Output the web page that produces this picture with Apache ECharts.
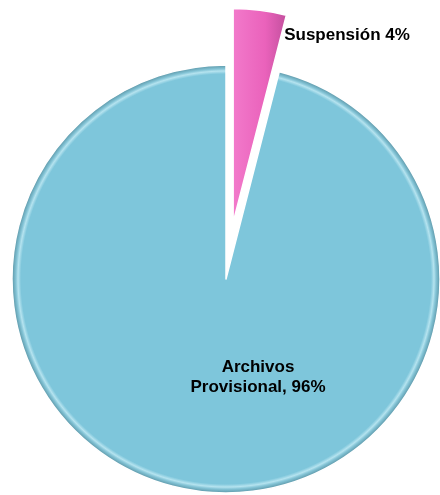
<!DOCTYPE html>
<html>
<head>
<meta charset="utf-8">
<script src="https://cdn.jsdelivr.net/npm/echarts@6/dist/echarts.min.js"></script>
<style>
html,body{margin:0;padding:0;background:#fff;}
#chart{width:440px;height:495px;}
</style>
</head>
<body>
<div id="chart"></div>
<script>
const categories = ['Suspensión', 'Archivos Provisional'];
const values = [4, 96];
const labelTexts = ['Suspensión {c}%', 'Archivos\nProvisional, {c}%'];

const CX = 226, CY = 279, R = 214;
const EXPLODE = 57;

// bisector of the exploded slice (clockwise from 12 o'clock)
const total = values.reduce((a, b) => a + b, 0);
const midDeg = values[0] / total * 360 / 2;
const PX = CX + EXPLODE * Math.sin(midDeg * Math.PI / 180);
const PY = CY - EXPLODE * Math.cos(midDeg * Math.PI / 180);

const blueFill = {
  type: 'radial', x: CX, y: CY, r: R, global: true,
  colorStops: [
    {offset: 0, color: '#7EC6DB'},
    {offset: 0.958, color: '#7EC6DB'},
    {offset: 0.972, color: '#B5E3EF'},
    {offset: 0.982, color: '#84C4D6'},
    {offset: 1, color: '#5B96A7'}
  ]
};
const pinkFill = {
  type: 'linear', x: 0, y: 0, x2: 1, y2: 0,
  colorStops: [
    {offset: 0, color: '#F27ACB'},
    {offset: 0.6, color: '#EA62BB'},
    {offset: 1, color: '#C24F9D'}
  ]
};
const fills = [pinkFill, blueFill];
const labelPos = [[347, 35], [258, 377]];

function makeSeries(idx, center) {
  return {
    type: 'pie',
    center: center,
    radius: [0, R],
    startAngle: 90,
    clockwise: true,
    avoidLabelOverlap: false,
    labelLine: {show: false},
    emphasis: {disabled: true},
    silent: true,
    data: categories.map((name, i) => ({
      name: name,
      value: values[i],
      itemStyle: i === idx
        ? {color: fills[i], borderColor: '#ffffff', borderWidth: 1.5}
        : {color: 'rgba(0,0,0,0)', borderWidth: 0},
      label: {
        show: i === idx,
        position: 'inside',
        formatter: labelTexts[i],
        color: '#000',
        fontFamily: 'Liberation Sans, Arial, sans-serif',
        fontWeight: 'bold',
        fontSize: 17,
        lineHeight: 20,
        align: 'center'
      }
    })),
    labelLayout: function (params) {
      const p = labelPos[params.dataIndex];
      return {x: p[0], y: p[1], align: 'center', verticalAlign: 'middle'};
    }
  };
}

const chart = echarts.init(document.getElementById('chart'), null, {renderer: 'canvas'});
chart.setOption({
  animation: false,
  backgroundColor: '#ffffff',
  series: [
    makeSeries(1, [CX, CY]),
    makeSeries(0, [PX, PY])
  ]
});
</script>
</body>
</html>
